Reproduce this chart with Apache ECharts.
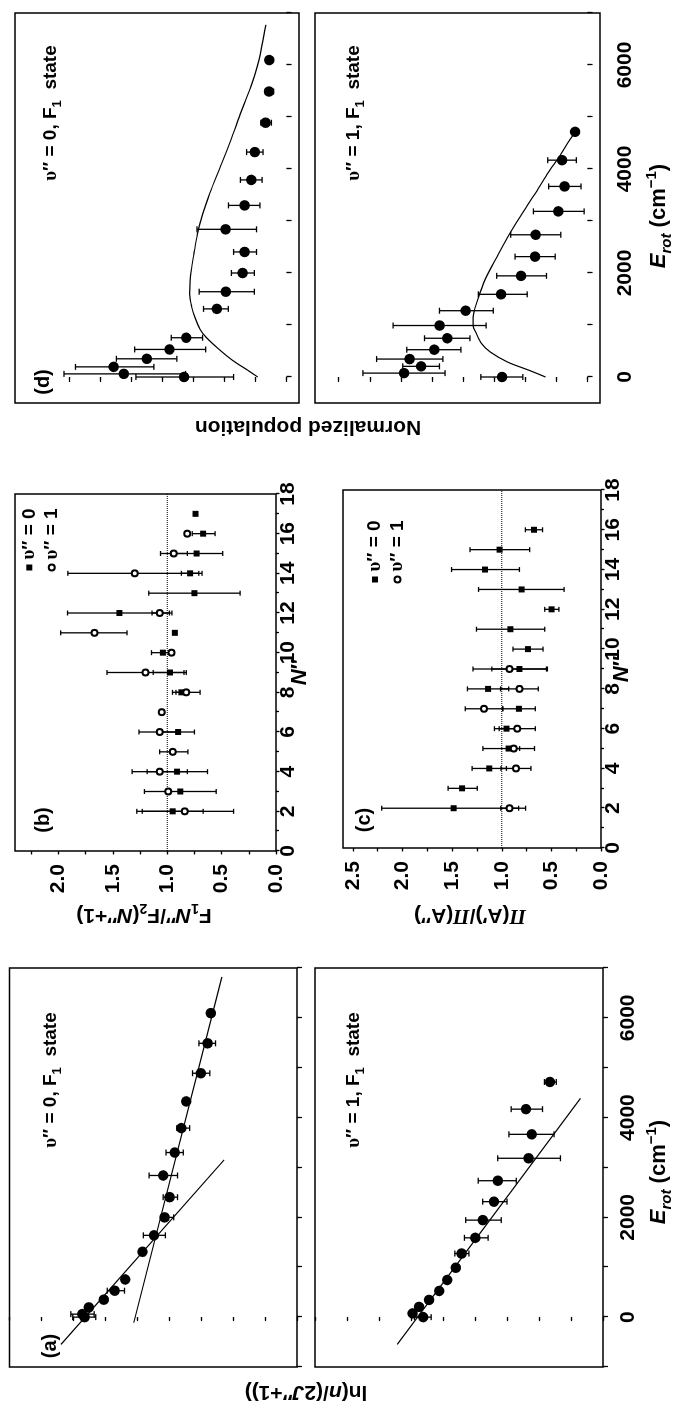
<!DOCTYPE html>
<html>
<head>
<meta charset="utf-8">
<title>F1 rotational populations</title>
<script src="https://cdn.jsdelivr.net/npm/echarts@6.0.0/dist/echarts.min.js"></script>
<style>
  html, body { margin: 0; padding: 0; background: #fff; }
  #page { position: relative; width: 675px; height: 1404px; overflow: hidden; background: #fff; }
  /* the figure is laid out landscape and turned a quarter turn counter-clockwise */
  #chart { position: absolute; left: 0; top: 0; width: 1404px; height: 675px;
           transform-origin: 0 0; transform: translate(0, 1404px) rotate(-90deg); }
</style>
</head>
<body>
<div id="page"><div id="chart"></div></div>
<script>
// ---------- rotational energies of the F1 levels (cm^-1) ----------
const E_V0 = [0, 60, 195, 350, 530, 755, 1310, 1640, 2000, 2405, 2840, 3300, 3790, 4325, 4890, 5490, 6095];
const E_V1 = [0, 75, 205, 345, 525, 745, 990, 1275, 1590, 1945, 2315, 2735, 3185, 3665, 4170, 4715];

// ---------- (a) Boltzmann plots, ln(n/(2J''+1)) in tick units ----------
const LN_V0    = [6.65, 6.72, 6.52, 6.05, 5.71, 5.38, 4.84, 4.48, 4.15, 3.99, 4.19, 3.83, 3.62, 3.47, 3.01, 2.80, 2.70];
const LN_V0_LO = [6.30, 6.35, null, null, 5.40, null, null, 4.12, 3.86, 3.74, 3.74, 3.56, 3.36, null, 2.73, 2.55, null];
const LN_V0_HI = [7.02, 7.08, null, null, 5.94, null, null, 4.81, 4.26, 4.19, 4.63, 4.10, 3.76, null, 3.27, 3.07, null];
const LN_V1    = [5.62, 5.95, 5.75, 5.44, 5.12, 4.87, 4.60, 4.42, 3.99, 3.76, 3.41, 3.29, 2.33, 2.23, 2.41, 1.66];
const LN_V1_LO = [5.37, null, null, null, null, null, null, 4.19, 3.59, 3.18, 3.00, 2.71, 1.33, 1.53, 1.89, 1.46];
const LN_V1_HI = [5.89, null, null, null, null, null, null, 4.63, 4.33, 4.29, 3.76, 3.90, 3.29, 2.94, 2.87, 1.83];

// straight-line fits (two temperatures for v''=0, one for v''=1)
const FIT_V0_COLD_E  = [-547, 3153];
const FIT_V0_COLD_LN = [7.39, 2.28];
const FIT_V0_HOT_E   = [-113, 6820];
const FIT_V0_HOT_LN  = [5.11, 2.35];
const FIT_V1_E       = [-547, 4387];
const FIT_V1_LN      = [6.43, 0.70];

// ---------- (b) F1/F2 ratio vs N'' ----------
const B_N_V0  = [2, 3, 4, 6, 8, 9, 10, 11, 12, 13, 14, 15, 16, 17];
const B_V0    = [0.95, 0.88, 0.91, 0.90, 0.87, 0.975, 1.04, 0.93, 1.44, 0.75, 0.79, 0.73, 0.67, 0.74];
const B_V0_LO = [0.67, 0.55, 0.63, 0.75, 0.82, 0.825, 0.935, null, 0.957, 0.33, 0.71, 0.49, 0.56, null];
const B_V0_HI = [1.28, 1.21, 1.185, 1.05, 0.92, 1.129, 1.145, null, 1.917, 1.17, 0.87, 0.966, 0.77, null];
const B_N_V1  = [2, 3, 4, 5, 6, 7, 8, 9, 10, 11, 12, 14, 15, 16];
const B_V1    = [0.84, 0.99, 1.07, 0.95, 1.07, 1.05, 0.825, 1.20, 0.96, 1.67, 1.07, 1.30, 0.94, 0.815];
const B_V1_LO = [0.39, null, 0.815, 0.81, 0.88, null, 0.698, 0.846, null, 1.37, 0.98, 0.68, 0.815, null];
const B_V1_HI = [1.23, null, 1.323, 1.07, 1.26, null, 0.952, 1.554, null, 1.98, 1.14, 1.914, 1.062, null];

// ---------- (c) Pi(A')/Pi(A'') vs N'' ----------
const C_N_V0  = [2, 3, 4, 5, 6, 7, 8, 9, 10, 11, 12, 13, 14, 15, 16];
const C_V0    = [1.485, 1.40, 1.126, 0.931, 0.952, 0.827, 1.138, 0.822, 0.736, 0.913, 0.498, 0.80, 1.169, 1.022, 0.675];
const C_V0_LO = [0.76, 1.247, 0.953, 0.67, 0.83, 0.662, 0.93, 0.54, 0.584, 0.567, 0.424, 0.372, 0.822, 0.719, 0.589];
const C_V0_HI = [2.21, 1.541, 1.299, 1.19, 1.074, 0.99, 1.346, 1.10, 0.887, 1.255, 0.567, 1.234, 1.506, 1.32, 0.762];
const C_N_V1  = [2, 4, 5, 6, 7, 8, 9];
const C_V1    = [0.922, 0.857, 0.879, 0.844, 1.18, 0.822, 0.922];
const C_V1_LO = [0.83, 0.706, 0.82, 0.662, 0.99, 0.632, 0.55];
const C_V1_HI = [1.01, 1.008, 0.94, 1.026, 1.368, 1.012, 1.29];

// ---------- (d) normalized populations (tick units) ----------
const D_V0    = [3.31, 5.25, 5.58, 4.51, 3.78, 3.24, 2.25, 1.96, 1.42, 1.36, 1.97, 1.36, 1.14, 1.03, 0.68, 0.57, 0.56];
const D_V0_LO = [1.71, 3.26, 4.28, 3.54, 2.61, 2.71, 1.88, 1.04, 1.04, 0.97, 0.97, 0.86, 0.79, 0.76, 0.49, 0.42, null];
const D_V0_HI = [4.86, 7.18, 6.81, 5.49, 4.90, 3.72, 2.68, 2.82, 1.78, 1.71, 2.89, 1.875, 1.49, 1.29, 0.83, 0.69, null];
const D_V1    = [2.75, 5.90, 5.35, 5.72, 4.93, 4.51, 4.76, 3.92, 2.78, 2.14, 1.69, 1.67, 0.94, 0.74, 0.82, 0.40];
const D_V1_LO = [2.08, 4.58, 4.76, 4.65, 4.07, 3.78, 3.26, 3.03, 1.94, 1.32, 1.04, 0.86, 0.11, 0.21, 0.36, null];
const D_V1_HI = [3.43, 7.22, 5.94, 6.78, 5.81, 5.24, 6.25, 4.76, 3.51, 2.92, 2.33, 2.47, 1.74, 1.25, 1.28, null];

// model distributions
const MODEL_V0_E = [0, 128, 319, 543, 767, 927, 1150, 1342, 1597, 1853, 2109, 2364, 2748, 3131, 3546, 4026, 4537, 5112, 5655, 6070, 6773];
const MODEL_V0_P = [0.93, 1.25, 1.74, 2.2, 2.6, 2.8, 2.96, 3.06, 3.13, 3.11, 3.06, 2.99, 2.875, 2.71, 2.47, 2.15, 1.81, 1.46, 1.11, 0.90, 0.67];
const MODEL_V1_E = [0, 128, 288, 479, 639, 831, 990, 1150, 1342, 1597, 1917, 2300, 2684, 3099, 3514, 3898, 4281, 4537, 4715];
const MODEL_V1_P = [1.35, 1.875, 2.57, 3.125, 3.40, 3.57, 3.68, 3.68, 3.61, 3.47, 3.26, 2.92, 2.57, 2.15, 1.70, 1.30, 0.86, 0.60, 0.40];

// ---------- tick positions ----------
const E_TICKS       = [0, 1000, 2000, 3000, 4000, 5000, 6000, 7000];
const E_LABELS      = [0, 2000, 4000, 6000];
const POP_TICKS     = [0, 1, 2, 3, 4, 5, 6, 7, 8];
const RATIO_TICKS_B = [0, 0.25, 0.5, 0.75, 1, 1.25, 1.5, 1.75, 2, 2.25];
const RATIO_TICKS_C = [0, 0.25, 0.5, 0.75, 1, 1.25, 1.5, 1.75, 2, 2.25, 2.5];
const RATIO_LABELS_B = [0, 0.5, 1, 1.5, 2];
const RATIO_LABELS_C = [0, 0.5, 1, 1.5, 2, 2.5];

// ---------- styling ----------
const FONT  = '"Liberation Sans", Arial, Helvetica, sans-serif';
const SERIF = '"Liberation Serif", "Times New Roman", serif';
const INK = '#000';
const tickLine = { color: INK, width: 1.2 };
const tickFont = { color: INK, fontFamily: FONT, fontWeight: 'bold', fontSize: 21 };

// panel rectangles, landscape coordinates
const PANELS = [
  { left: 37,   top: 9.5, width: 399, height: 287.5 }, // (a) v''=0
  { left: 37,   top: 315, width: 399, height: 288 },   // (a) v''=1
  { left: 553,  top: 15,  width: 357, height: 261 },   // (b)
  { left: 556,  top: 343, width: 358, height: 258 },   // (c)
  { left: 1001, top: 15,  width: 390, height: 284 },   // (d) v''=0
  { left: 1001, top: 315, width: 390, height: 285 }    // (d) v''=1
];

function axes(kind, gi, s) {
  const main = {
    type: 'value', gridIndex: gi, min: s.min, max: s.max,
    position: kind === 'x' ? 'bottom' : 'left',
    axisLine: { show: false }, splitLine: { show: false },
    axisTick: { show: true, length: s.tick, lineStyle: tickLine },
    axisLabel: Object.assign({ show: !!s.labels, margin: s.margin || 8 }, tickFont)
  };
  if (s.interval != null) main.interval = s.interval;
  if (s.ticks) main.axisTick.customValues = s.ticks;
  if (Array.isArray(s.labels)) main.axisLabel.customValues = s.labels;
  main.axisLabel.formatter = s.formatter || (v => String(v));
  if (s.minor) main.minorTick = { show: true, splitNumber: 2, length: 3, lineStyle: tickLine };
  const mirror = {
    type: 'value', gridIndex: gi, min: s.min, max: s.max,
    position: kind === 'x' ? 'top' : 'right',
    axisLine: { show: false }, splitLine: { show: false },
    axisTick: { show: true, inside: true, length: 3, lineStyle: tickLine },
    axisLabel: { show: false }
  };
  if (s.interval != null) mirror.interval = s.interval;
  if (s.ticks) mirror.axisTick.customValues = s.ticks;
  if (s.minor) mirror.minorTick = { show: true, splitNumber: 2, length: 2, lineStyle: tickLine };
  return [main, mirror];
}

const evenThousands = v => (v >= 0 && v % 2000 === 0) ? String(v) : '';
const oneDecimal = v => v.toFixed(1);

const xAxes = [].concat(
  axes('x', 0, { min: -1000, max: 7000, interval: 1000, tick: 5 }),
  axes('x', 1, { min: -1000, max: 7000, interval: 1000, tick: 5, labels: true, formatter: evenThousands, margin: 15 }),
  axes('x', 2, { min: 0, max: 18, interval: 2, tick: 3.5, minor: true, labels: true, margin: 2 }),
  axes('x', 3, { min: 0, max: 18, interval: 2, tick: 3.5, minor: true, labels: true, margin: 2 }),
  axes('x', 4, { min: -500, max: 7000, ticks: E_TICKS, tick: 5 }),
  axes('x', 5, { min: -500, max: 7000, ticks: E_TICKS, tick: 5, labels: E_LABELS, margin: 15 })
);
const yAxes = [].concat(
  axes('y', 0, { min: 0, max: 9, interval: 1, tick: 4 }),
  axes('y', 1, { min: 0, max: 9, interval: 1, tick: 4 }),
  axes('y', 2, { min: 0, max: 2.4, ticks: RATIO_TICKS_B, tick: 3.5, labels: RATIO_LABELS_B, formatter: oneDecimal, margin: 13 }),
  axes('y', 3, { min: 0, max: 2.6, ticks: RATIO_TICKS_C, tick: 3.5, labels: RATIO_LABELS_C, formatter: oneDecimal, margin: 13 }),
  axes('y', 4, { min: -0.4, max: 8.76, ticks: POP_TICKS, tick: 5 }),
  axes('y', 5, { min: -0.4, max: 8.76, ticks: POP_TICKS, tick: 5 })
);

function points(name, gi, xs, ys, symbol, size) {
  const empty = symbol === 'emptyCircle';
  return {
    type: 'scatter', name, xAxisIndex: 2 * gi, yAxisIndex: 2 * gi,
    data: xs.map((x, i) => [x, ys[i]]), symbol, symbolSize: size,
    itemStyle: { color: INK, borderColor: INK, borderWidth: empty ? 1.2 : 0, opacity: 1 },
    z: 5, silent: true, animation: false
  };
}

function errorBars(name, gi, xs, lo, hi, cap) {
  const data = [];
  xs.forEach((x, i) => { if (lo[i] != null && hi[i] != null) data.push([x, lo[i], hi[i]]); });
  return {
    type: 'custom', name, xAxisIndex: 2 * gi, yAxisIndex: 2 * gi, data,
    encode: { x: 0, y: [1, 2] }, z: 3, silent: true, animation: false,
    renderItem(params, api) {
      const x = api.value(0);
      const a = api.coord([x, api.value(1)]);
      const b = api.coord([x, api.value(2)]);
      const st = { stroke: INK, lineWidth: 1.3 };
      return {
        type: 'group', children: [
          { type: 'line', shape: { x1: a[0], y1: a[1], x2: b[0], y2: b[1] }, style: st },
          { type: 'line', shape: { x1: a[0] - cap, y1: a[1], x2: a[0] + cap, y2: a[1] }, style: st },
          { type: 'line', shape: { x1: b[0] - cap, y1: b[1], x2: b[0] + cap, y2: b[1] }, style: st }
        ]
      };
    }
  };
}

function curve(name, gi, xs, ys, opts) {
  opts = opts || {};
  return {
    type: 'line', name, xAxisIndex: 2 * gi, yAxisIndex: 2 * gi,
    data: xs.map((x, i) => [x, ys[i]]), showSymbol: false, symbol: 'none',
    smooth: opts.smooth || false,
    lineStyle: { color: INK, width: opts.width || 1.2, type: opts.type || 'solid' },
    z: 2, silent: true, animation: false
  };
}

const V0 = 'υ″ = 0', V1 = 'υ″ = 1';

const series = [
  // (a)
  curve('fit cold v0', 0, FIT_V0_COLD_E, FIT_V0_COLD_LN),
  curve('fit hot v0', 0, FIT_V0_HOT_E, FIT_V0_HOT_LN),
  errorBars('err a v0', 0, E_V0, LN_V0_LO, LN_V0_HI, 3),
  points('ln v0', 0, E_V0, LN_V0, 'circle', 10.5),
  curve('fit v1', 1, FIT_V1_E, FIT_V1_LN),
  errorBars('err a v1', 1, E_V1, LN_V1_LO, LN_V1_HI, 3),
  points('ln v1', 1, E_V1, LN_V1, 'circle', 10.5),
  // (b)
  curve('unity b', 2, [0, 18], [1, 1], { type: 'dotted', width: 1 }),
  errorBars('err b v0', 2, B_N_V0, B_V0_LO, B_V0_HI, 2.5),
  errorBars('err b v1', 2, B_N_V1, B_V1_LO, B_V1_HI, 2.5),
  points(V0, 2, B_N_V0, B_V0, 'rect', 6),
  points(V1, 2, B_N_V1, B_V1, 'emptyCircle', 6),
  // (c)
  curve('unity c', 3, [0, 18], [1, 1], { type: 'dotted', width: 1 }),
  errorBars('err c v0', 3, C_N_V0, C_V0_LO, C_V0_HI, 2.5),
  errorBars('err c v1', 3, C_N_V1, C_V1_LO, C_V1_HI, 2.5),
  points(V0, 3, C_N_V0, C_V0, 'rect', 6),
  points(V1, 3, C_N_V1, C_V1, 'emptyCircle', 6),
  // (d)
  curve('model v0', 4, MODEL_V0_E, MODEL_V0_P, { smooth: 0.3 }),
  errorBars('err d v0', 4, E_V0, D_V0_LO, D_V0_HI, 3),
  points('pop v0', 4, E_V0, D_V0, 'circle', 10.5),
  curve('model v1', 5, MODEL_V1_E, MODEL_V1_P, { smooth: 0.3 }),
  errorBars('err d v1', 5, E_V1, D_V1_LO, D_V1_HI, 3),
  points('pop v1', 5, E_V1, D_V1, 'circle', 10.5)
];

function rich(size) {
  const base = { fontFamily: FONT, fontWeight: 'bold', fontSize: size, fill: INK, color: INK };
  const small = Math.round(size * 0.68);
  const shift = Math.round(size * 0.7);
  return {
    t: base,
    u: Object.assign({}, base, { fontFamily: SERIF }),
    i: Object.assign({}, base, { fontStyle: 'italic' }),
    p: Object.assign({}, base, { fontFamily: SERIF, fontStyle: 'italic' }),
    sb: Object.assign({}, base, { fontSize: small, padding: [shift, 0, 0, 0] }),
    sbi: Object.assign({}, base, { fontSize: small, fontStyle: 'italic', padding: [shift, 0, 0, 0] }),
    sp: Object.assign({}, base, { fontSize: small, padding: [0, 0, shift, 0] })
  };
}

function txt(x, y, text, size, rotation) {
  return {
    type: 'text', x, y, rotation: rotation || 0, silent: true, z: 10,
    style: {
      text, rich: rich(size), fontFamily: FONT, fontWeight: 'bold', fontSize: size,
      fill: INK, align: 'center', verticalAlign: 'middle'
    }
  };
}

const UP = Math.PI / 2;
const STATE0 = '{u|υ}{t|″ = 0, F}{sb|1}{t|  state}';
const STATE1 = '{u|υ}{t|″ = 1, F}{sb|1}{t|  state}';
const EROT = '{i|E}{sbi|rot}{t| (cm}{sp|−1}{t|)}';
const NPP = '{i|N}{t|″}';

const texts = [
  txt(58, 50, '{t|(a)}', 20),
  txt(584, 43, '{t|(b)}', 20),
  txt(584, 364, '{t|(c)}', 20),
  txt(1022, 43, '{t|(d)}', 20),
  txt(324, 51, STATE0, 19),
  txt(324, 354, STATE1, 19),
  txt(1291, 51, STATE0, 19),
  txt(1291, 354, STATE1, 19),
  txt(12, 306, '{t|ln(}{i|n}{t|/(2}{i|J}{t|″+1))}', 21, UP),
  txt(489, 144, '{t|F}{sb|1}{i|N}{t|″/F}{sb|2}{t|(}{i|N}{t|″+1)}', 21, UP),
  txt(489, 470, '{p|Π}{t|(A′)/}{p|Π}{t|(A″)}', 21, UP),
  txt(977, 308, '{t|Normalized population}', 21, UP),
  txt(232, 659, EROT, 22),
  txt(1188, 659, EROT, 22),
  txt(732, 300, NPP, 22),
  txt(735, 622, NPP, 22)
];

function legendAt(left, top) {
  return {
    data: [V0, V1], orient: 'vertical', left, top, padding: 0,
    itemWidth: 6, itemHeight: 6, itemGap: 3.5, selectedMode: false,
    formatter: name => '{u|υ}{t|' + name.slice(1) + '}',
    textStyle: {
      color: INK, fontFamily: FONT, fontWeight: 'bold', fontSize: 19, lineHeight: 19,
      rich: {
        u: { fontFamily: SERIF, fontWeight: 'bold', fontSize: 19, color: INK },
        t: { fontFamily: FONT, fontWeight: 'bold', fontSize: 19, color: INK }
      }
    }
  };
}

const option = {
  animation: false,
  backgroundColor: '#fff',
  textStyle: { fontFamily: FONT },
  grid: PANELS.map(p => Object.assign({ show: true, borderColor: INK, borderWidth: 1.5, backgroundColor: 'transparent' }, p)),
  xAxis: xAxes,
  yAxis: yAxes,
  legend: [legendAt(832.5, 19.8), legendAt(820.5, 365.5)],
  series,
  graphic: { elements: texts }
};

const chart = echarts.init(document.getElementById('chart'), null, { renderer: 'canvas', width: 1404, height: 675 });
chart.setOption(option);
</script>
</body>
</html>
